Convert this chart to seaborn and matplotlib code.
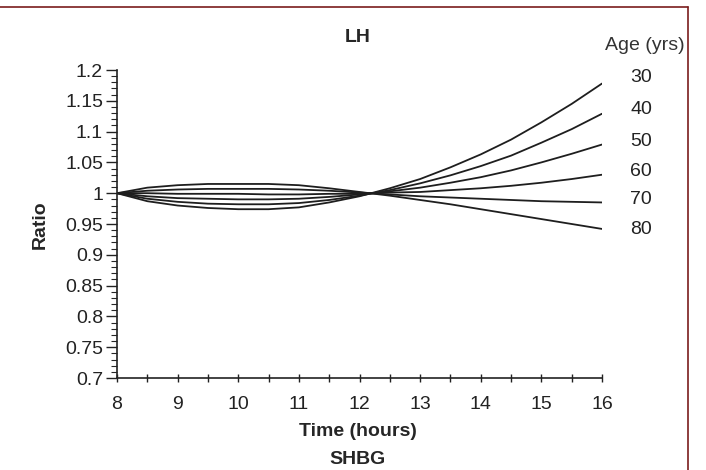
import numpy as np
import pandas as pd
import matplotlib
matplotlib.use("Agg")
import matplotlib.pyplot as plt
from matplotlib.lines import Line2D
from matplotlib.ticker import MultipleLocator, FuncFormatter
import seaborn as sns

# ---- data ----
time_h = [8, 8.5, 9, 9.5, 10, 10.5, 11, 11.5, 12, 12.5, 13, 13.5, 14, 14.5, 15, 15.5, 16]
ratio_30 = [1.000, 0.987, 0.980, 0.976, 0.974, 0.974, 0.977, 0.985, 0.995, 1.008, 1.023, 1.042, 1.063, 1.087, 1.115, 1.145, 1.178]
ratio_40 = [1.000, 0.991, 0.986, 0.983, 0.982, 0.982, 0.984, 0.989, 0.996, 1.005, 1.016, 1.029, 1.044, 1.061, 1.082, 1.104, 1.129]
ratio_50 = [1.000, 0.995, 0.992, 0.991, 0.990, 0.990, 0.991, 0.994, 0.998, 1.003, 1.009, 1.017, 1.026, 1.037, 1.050, 1.064, 1.079]
ratio_60 = [1.000, 1.000, 0.999, 0.999, 0.999, 0.998, 0.998, 0.999, 0.999, 1.001, 1.002, 1.005, 1.008, 1.012, 1.017, 1.023, 1.030]
ratio_70 = [1.000, 1.004, 1.006, 1.007, 1.007, 1.007, 1.006, 1.004, 1.001, 0.998, 0.995, 0.993, 0.991, 0.989, 0.987, 0.986, 0.985]
ratio_80 = [1.000, 1.009, 1.013, 1.015, 1.015, 1.015, 1.013, 1.008, 1.002, 0.996, 0.989, 0.982, 0.974, 0.966, 0.958, 0.950, 0.942]
ages = ["30", "40", "50", "60", "70", "80"]
series = [ratio_30, ratio_40, ratio_50, ratio_60, ratio_70, ratio_80]
x_ticks = [8, 9, 10, 11, 12, 13, 14, 15, 16]
y_ticks = [0.7, 0.75, 0.8, 0.85, 0.9, 0.95, 1.0, 1.05, 1.1, 1.15, 1.2]

df = pd.DataFrame({
    "Time": np.tile(time_h, len(ages)),
    "Ratio": np.concatenate(series),
    "Age": np.repeat(ages, len(time_h)),
})

sns.set_style("ticks")
plt.rcParams["font.family"] = ["Liberation Sans", "DejaVu Sans"]

FS = 14
fig = plt.figure(figsize=(7.06, 4.70), dpi=100)
ax = fig.add_axes([117/706, 1-378/470, (602-117)/706, (378-70)/470])

sns.lineplot(data=df, x="Time", y="Ratio", hue="Age", hue_order=ages,
             palette=["#1e1e1e"]*len(ages), legend=False, linewidth=1.3, ax=ax)

ax.set_xlim(8, 16)
ax.set_ylim(0.7, 1.2)
ax.set_xticks(x_ticks)
ax.set_yticks(y_ticks)
ax.xaxis.set_minor_locator(MultipleLocator(0.5))
ax.yaxis.set_minor_locator(MultipleLocator(0.01))
ax.yaxis.set_major_formatter(FuncFormatter(lambda v, p: "%g" % round(v, 2)))
ax.tick_params(axis="x", which="both", direction="inout", length=6, width=1.0, labelsize=FS, pad=10, colors="#222222")
ax.tick_params(axis="y", which="major", direction="out", length=8, width=1.0, labelsize=FS, pad=2, colors="#222222")
ax.tick_params(axis="y", which="minor", direction="out", length=4, width=0.8)
sns.despine(ax=ax)
for s in ["left", "bottom"]:
    ax.spines[s].set_linewidth(1.2)
    ax.spines[s].set_color("#222222")

ax.set_xlabel("Time (hours)", fontsize=FS, fontweight="bold")
ax.set_ylabel("Ratio", fontsize=FS, fontweight="bold")
ax.xaxis.set_label_coords((358-117)/485, -(432-378)/308, transform=ax.transAxes)
ax.xaxis.label.set_va("center")
ax.yaxis.set_label_coords(-(117-40)/485, (378-225)/308, transform=ax.transAxes)
ax.yaxis.label.set_va("center")

fig.text(358/706, 1-37/470, "LH", fontsize=FS, fontweight="bold", ha="center", va="center")
fig.text(358/706, 1-460/470, "SHBG", fontsize=FS, fontweight="bold", ha="center", va="center")
fig.text(645/706, 1-45/470, "Age (yrs)", fontsize=FS, ha="center", va="center", color="#333333")
label_y = [78, 109, 142, 172, 200, 229]
for a, yy in zip(ages, label_y):
    fig.text(641/706, 1-yy/470, a, fontsize=FS, ha="center", va="center", color="#222222")

# border
border_c = "#7a1c1c"
fig.add_artist(Line2D([0, 688/706], [1-7/470, 1-7/470], transform=fig.transFigure, color=border_c, lw=1.2))
fig.add_artist(Line2D([688/706, 688/706], [0, 1-7/470], transform=fig.transFigure, color=border_c, lw=1.2))

fig.savefig("out.png", dpi=100)
